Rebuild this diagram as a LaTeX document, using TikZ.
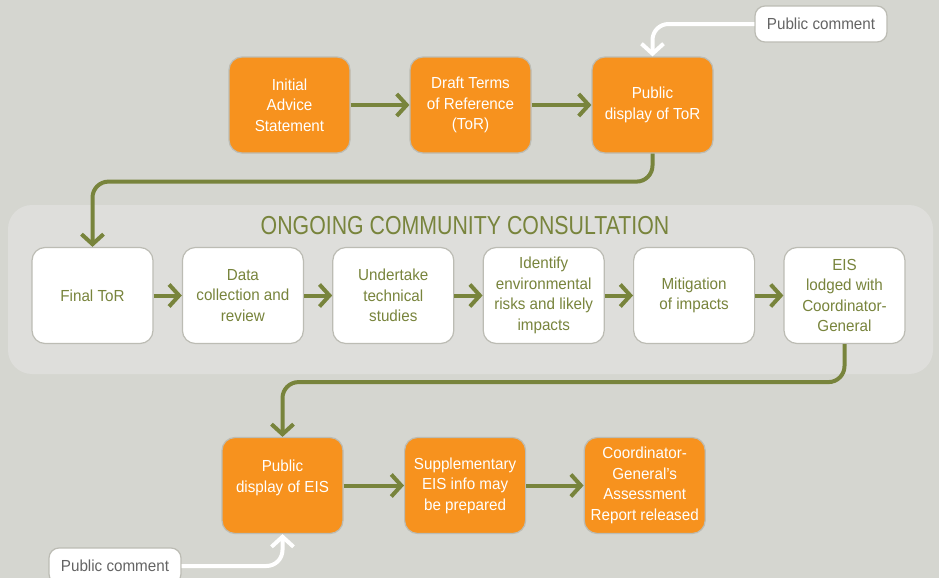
\documentclass[tikz,border=0pt]{standalone}
\usepackage{fontspec}
\setmainfont{Liberation Sans}[FakeStretch=0.95]
\newfontfamily\titlefont{Liberation Sans}[FakeStretch=0.82]
\usetikzlibrary{positioning, arrows.meta, calc}
\definecolor{pagegrey}{RGB}{213, 214, 208}
\definecolor{bandgrey}{RGB}{222, 222, 219}
\definecolor{stageorange}{RGB}{247, 146, 30}
\definecolor{flowgreen}{RGB}{120, 132, 60}
\definecolor{edgegrey}{RGB}{188, 188, 180}
\definecolor{commentgrey}{RGB}{100, 100, 100}

\begin{document}
\begin{tikzpicture}[
    x=0.5pt, y=-0.5pt,
    stage/.style={
      draw=edgegrey, line width=0.6pt, rounded corners=6.5pt,
      minimum width=60.5pt, minimum height=48pt, inner sep=2pt,
      align=center, font=\fontsize{8}{10.3}\selectfont
    },
    orangestage/.style={stage, fill=stageorange, text=white},
    whitestage/.style={stage, fill=white, text=flowgreen},
    commentbox/.style={
      draw=edgegrey, line width=0.6pt, fill=white, rounded corners=5pt,
      minimum width=66pt, minimum height=18pt, text=commentgrey,
      font=\fontsize{8}{10.3}\selectfont
    },
    flow/.style={
      draw=flowgreen, line width=2pt, rounded corners=8pt,
      -{Straight Barb[length=5pt, width=11pt]}
    },
    inflow/.style={flow, draw=white},
]
    \useasboundingbox (0,0) rectangle (939,578);
    \clip (0,0) rectangle (939,578);
    \fill[pagegrey] (0,0) rectangle (939,578);

    % consultation band
    \fill[bandgrey, rounded corners=12pt] (8,205) rectangle (933,374);
    \node[text=flowgreen, font=\titlefont\fontsize{13}{15}\selectfont] (band) at (465,226)
      {ONGOING COMMUNITY CONSULTATION};

    % top row
    \node[orangestage] (ias) at (289.5,105) {Initial\\Advice\\Statement};
    \node[orangestage, right=29.4pt of ias] (dtor) {Draft Terms\\of Reference\\(ToR)};
    \node[orangestage, right=29.9pt of dtor] (pdtor) {Public\\display of ToR};
    \node[commentbox] (pctop) at (821,24) {Public comment};

    % consultation row
    \node[whitestage] (ftor) at (92.5,295.5) {Final ToR};
    \node[whitestage, right=14.1pt of ftor] (data) {Data\\collection and\\review};
    \node[whitestage, right=14.1pt of data] (studies) {Undertake\\technical\\studies};
    \node[whitestage, right=14.1pt of studies] (risks) {Identify\\environmental\\risks and likely\\impacts};
    \node[whitestage, right=14.1pt of risks] (mitig) {Mitigation\\of impacts};
    \node[whitestage, right=14.1pt of mitig] (eis) {EIS\\lodged with\\Coordinator-\\General};

    % bottom row
    \node[orangestage] (pdeis) at (282.5,485.5) {Public\\display of EIS\\[-0.9pt]\mbox{}};
    \node[orangestage, right=30.2pt of pdeis] (supp) {Supplementary\\EIS info may\\be prepared};
    \node[orangestage, right=28.7pt of supp] (cgar) {Coordinator-\\General's\\Assessment\\Report released};
    \node[commentbox] (pcbot) at (115,566) {Public comment};

    % connectors
    \draw[flow] (ias) -- (dtor);
    \draw[flow] (dtor) -- (pdtor);
    \draw[inflow] (pctop.west) -| (pdtor.north);
    \draw[flow] (pdtor.south) -- ++(0,28) -| (ftor.north);
    \draw[flow] (ftor) -- (data);
    \draw[flow] (data) -- (studies);
    \draw[flow] (studies) -- (risks);
    \draw[flow] (risks) -- (mitig);
    \draw[flow] (mitig) -- (eis);
    \draw[flow] (eis.south) -- ++(0,38) -| (pdeis.north);
    \draw[flow] (pdeis) -- (supp);
    \draw[flow] (supp) -- (cgar);
    \draw[inflow] (pcbot.east) -| (pdeis.south);
\end{tikzpicture}
\end{document}
